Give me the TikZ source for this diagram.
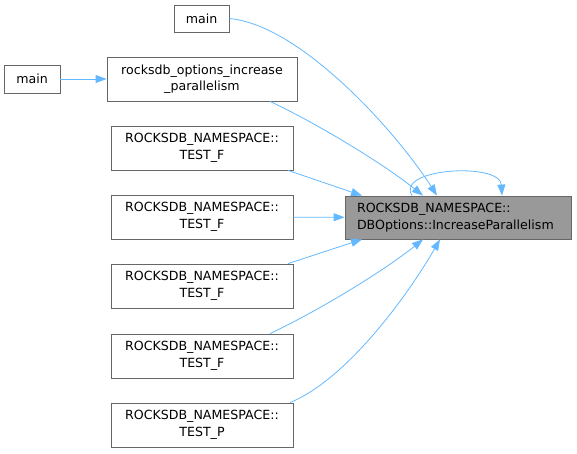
\documentclass[tikz,border=0pt]{standalone}
\usepackage{fontspec}
\setmainfont{DejaVu Sans}
\usepackage{xcolor}
\usetikzlibrary{arrows.meta}
\definecolor{edgeblue}{HTML}{63B8FF}
\definecolor{boxgray}{HTML}{666666}
\definecolor{curgray}{HTML}{999999}

\begin{document}
\begin{tikzpicture}[x=1pt,y=-1pt,
    fn/.style={draw=boxgray,line width=0.8pt,inner sep=0pt,align=center,
        minimum height=44pt,minimum width=182pt,
        font=\fontsize{12.6}{16.5}\selectfont},
    cur/.style={fn,fill=curgray,align=left,text width=202pt,minimum width=226pt,minimum height=43pt},
    call/.style={draw=edgeblue,line width=0.8pt,-{Triangle[length=11pt,width=8pt]}}]
    \useasboundingbox (0,0) rectangle (577,454);

    \node[fn,minimum width=55pt,minimum height=27pt] (maintop) at (201.5,18.5) {main};
    \node[fn,minimum width=56pt,minimum height=28pt] (mainleft) at (32,79) {main};
    \node[fn,minimum width=190pt] (opts) at (202,79) {rocksdb\_options\_increase\\\_parallelism};
    \node[fn] (tfa) at (202,148) {ROCKSDB\_NAMESPACE::\\TEST\_F};
    \node[fn] (tfb) at (202,217) {ROCKSDB\_NAMESPACE::\\TEST\_F};
    \node[fn] (tfc) at (202,286) {ROCKSDB\_NAMESPACE::\\TEST\_F};
    \node[fn] (tfd) at (202,356) {ROCKSDB\_NAMESPACE::\\TEST\_F};
    \node[fn] (tp) at (202,425) {ROCKSDB\_NAMESPACE::\\TEST\_P};
    \node[cur] (target) at (458,217.5) {ROCKSDB\_NAMESPACE::\\DBOptions::IncreaseParallelism};

    \draw[call] (mainleft) -- (opts);
    \draw[call] (maintop.east) .. controls (300,25) and (395,130) .. ([xshift=-21pt]target.north);
    \draw[call] ([xshift=68pt]opts.south) .. controls (320,125) and (385,165) .. ([xshift=-35pt]target.north);
    \draw[call] ([xshift=86pt]tfa.south) -- ([xshift=-96pt]target.north);
    \draw[call] (tfb) -- (target);
    \draw[call] ([xshift=86pt]tfc.north) -- ([xshift=-96pt]target.south);
    \draw[call] ([xshift=68pt]tfd.north) .. controls (320,310) and (385,270) .. ([xshift=-35pt]target.south);
    \draw[call] ([xshift=88pt]tp.north) .. controls (345,380) and (405,300) .. ([xshift=-18pt]target.south);
    \draw[call] ([xshift=-46pt]target.north) .. controls (395,168) and (500,162) .. ([xshift=44pt]target.north);
\end{tikzpicture}
\end{document}
